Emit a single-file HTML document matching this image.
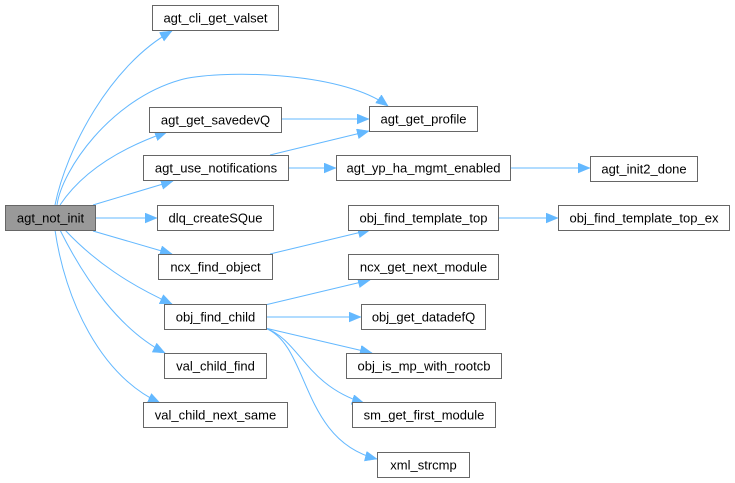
<!DOCTYPE html>
<html><head><meta charset="utf-8">
<style>
html,body{margin:0;padding:0;background:#fff;}
svg{display:block;}
text{font-family:"Liberation Sans",Arial,sans-serif;font-size:13px;fill:#000;}
</style></head>
<body>
<svg width="735" height="483" viewBox="0 0 735 483" xmlns="http://www.w3.org/2000/svg">
<defs>
<marker id="a" markerUnits="userSpaceOnUse" markerWidth="14" markerHeight="12" refX="12" refY="5" orient="auto">
<path d="M0,0 L12,5 L0,10 z" fill="#63b8ff" stroke="#63b8ff" stroke-width="0.5"/>
</marker>
</defs>
<g fill="none" stroke="#63b8ff" stroke-width="1">
<path marker-end="url(#a)" d="M55,205 C66,150 110,65 172,31"/>
<path marker-end="url(#a)" d="M57,205 C62,170 110,100 180,80 C215,70 340,70 388,106"/>
<path marker-end="url(#a)" d="M60,205 C80,175 115,150 167,132"/>
<path marker-end="url(#a)" d="M93,205 L173,181"/>
<path marker-end="url(#a)" d="M95,218 L157,218"/>
<path marker-end="url(#a)" d="M93,231 L172,254"/>
<path marker-end="url(#a)" d="M65,230 C95,262 130,285 172,304"/>
<path marker-end="url(#a)" d="M60,230 C85,280 120,330 165,353"/>
<path marker-end="url(#a)" d="M55,230 C65,300 100,375 160,403"/>
<path marker-end="url(#a)" d="M281,119 L369,119"/>
<path marker-end="url(#a)" d="M270,155 L369,131"/>
<path marker-end="url(#a)" d="M288,168 L336,168"/>
<path marker-end="url(#a)" d="M510,168 L590,168"/>
<path marker-end="url(#a)" d="M270,254 L370,230"/>
<path marker-end="url(#a)" d="M498,218 L558,218"/>
<path marker-end="url(#a)" d="M265,305 L370,280"/>
<path marker-end="url(#a)" d="M266,317 L361,317"/>
<path marker-end="url(#a)" d="M265,328 L372,353"/>
<path marker-end="url(#a)" d="M265,328 C300,340 305,385 364,403"/>
<path marker-end="url(#a)" d="M265,328 C310,345 300,440 377,459"/>
</g>
<g stroke="#666" stroke-width="1" fill="#fff">
<rect x="5.5" y="205.5" width="90" height="25" fill="#999"/>
<rect x="152.5" y="5.5" width="126" height="25"/>
<rect x="149.5" y="107.5" width="132" height="25"/>
<rect x="143.5" y="155.5" width="145" height="25"/>
<rect x="157.5" y="205.5" width="116" height="25"/>
<rect x="158.5" y="254.5" width="114" height="25"/>
<rect x="164.5" y="304.5" width="102" height="25"/>
<rect x="164.5" y="353.5" width="102" height="25"/>
<rect x="143.5" y="402.5" width="144" height="25"/>
<rect x="369.5" y="106.5" width="108" height="25"/>
<rect x="336.5" y="155.5" width="174" height="25"/>
<rect x="348.5" y="205.5" width="150" height="25"/>
<rect x="348.5" y="254.5" width="150" height="25"/>
<rect x="361.5" y="304.5" width="124" height="25"/>
<rect x="346.5" y="353.5" width="155" height="25"/>
<rect x="352.5" y="402.5" width="143" height="25"/>
<rect x="377.5" y="452.5" width="92" height="25"/>
<rect x="590.5" y="156.5" width="107" height="25"/>
<rect x="558.5" y="205.5" width="171" height="25"/>
</g>
<g text-anchor="middle">
<text x="50.5" y="222.5">agt_not_init</text>
<text x="215.5" y="22.5">agt_cli_get_valset</text>
<text x="215.5" y="124.5">agt_get_savedevQ</text>
<text x="216" y="172.5">agt_use_notifications</text>
<text x="215.5" y="222.5">dlq_createSQue</text>
<text x="215.5" y="271.5">ncx_find_object</text>
<text x="215.5" y="321.5">obj_find_child</text>
<text x="215.5" y="370.5">val_child_find</text>
<text x="215.5" y="419.5">val_child_next_same</text>
<text x="423.5" y="123.5">agt_get_profile</text>
<text x="423.5" y="172.5">agt_yp_ha_mgmt_enabled</text>
<text x="423.5" y="222.5">obj_find_template_top</text>
<text x="423.5" y="271.5">ncx_get_next_module</text>
<text x="423.5" y="321.5">obj_get_datadefQ</text>
<text x="424" y="370.5">obj_is_mp_with_rootcb</text>
<text x="424" y="419.5">sm_get_first_module</text>
<text x="423.5" y="469.5">xml_strcmp</text>
<text x="644" y="173.5">agt_init2_done</text>
<text x="644" y="222.5">obj_find_template_top_ex</text>
</g>
</svg>
</body></html>
